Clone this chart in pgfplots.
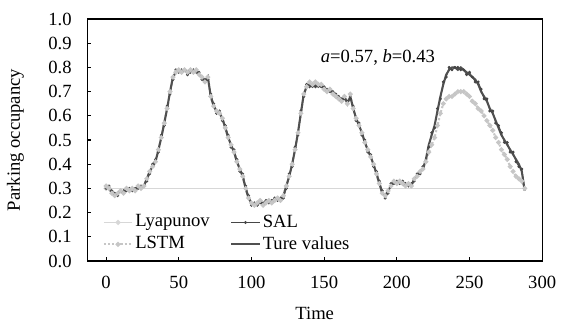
\documentclass[border=0pt]{standalone}
\usepackage{fontspec}
\setmainfont{Liberation Serif}
\usepackage{pgfplots}
\usepackage{pgfplotstable}
\pgfplotsset{compat=1.18}
\definecolor{truec}{RGB}{80,80,80}
\definecolor{salc}{RGB}{70,70,70}
\definecolor{lstmc}{RGB}{198,198,198}
\definecolor{lyac}{RGB}{215,215,215}
\pgfplotstableread{
t true sal lstm
0 0.31 0.30 0.31
2 0.30 0.31 0.30
4 0.28 0.29 0.28
6 0.27 0.28 0.27
8 0.28 0.27 0.28
10 0.29 0.29 0.29
12 0.28 0.29 0.28
14 0.30 0.29 0.30
16 0.29 0.30 0.29
18 0.30 0.29 0.30
20 0.29 0.30 0.29
22 0.31 0.30 0.31
24 0.30 0.31 0.30
26 0.31 0.31 0.31
28 0.34 0.33 0.34
30 0.37 0.36 0.37
32 0.39 0.40 0.39
34 0.41 0.42 0.41
36 0.46 0.45 0.46
38 0.51 0.52 0.51
40 0.57 0.56 0.57
42 0.63 0.64 0.63
44 0.70 0.69 0.70
46 0.76 0.75 0.76
48 0.78 0.79 0.78
50 0.79 0.78 0.79
52 0.78 0.79 0.78
54 0.79 0.79 0.79
56 0.78 0.77 0.78
58 0.79 0.78 0.79
60 0.78 0.79 0.78
62 0.79 0.78 0.79
64 0.77 0.78 0.77
66 0.76 0.75 0.76
68 0.74 0.75 0.74
70 0.76 0.75 0.76
72 0.68 0.69 0.68
74 0.64 0.65 0.64
76 0.62 0.61 0.62
78 0.61 0.62 0.61
80 0.59 0.58 0.59
82 0.55 0.56 0.55
84 0.51 0.52 0.51
86 0.48 0.47 0.48
88 0.45 0.46 0.45
90 0.41 0.42 0.41
92 0.38 0.37 0.38
94 0.35 0.36 0.35
96 0.30 0.31 0.30
98 0.26 0.27 0.26
100 0.24 0.23 0.24
102 0.23 0.24 0.23
104 0.24 0.23 0.24
106 0.25 0.24 0.25
108 0.23 0.24 0.23
110 0.24 0.25 0.24
112 0.25 0.24 0.25
114 0.24 0.25 0.24
116 0.25 0.26 0.25
118 0.26 0.25 0.26
120 0.25 0.26 0.25
122 0.27 0.26 0.27
124 0.31 0.30 0.31
126 0.35 0.36 0.35
128 0.40 0.39 0.40
130 0.46 0.47 0.46
132 0.53 0.52 0.53
134 0.61 0.62 0.61
136 0.69 0.68 0.69
138 0.72 0.73 0.72
140 0.73 0.72 0.74
142 0.72 0.73 0.73
144 0.73 0.72 0.74
146 0.72 0.73 0.73
148 0.73 0.72 0.73
150 0.71 0.72 0.71
152 0.70 0.71 0.70
154 0.71 0.70 0.71
156 0.69 0.70 0.69
158 0.68 0.69 0.68
160 0.67 0.68 0.67
162 0.66 0.67 0.66
164 0.68 0.67 0.68
166 0.65 0.66 0.65
168 0.68 0.67 0.69
170 0.63 0.64 0.63
172 0.59 0.58 0.59
174 0.56 0.57 0.56
176 0.53 0.52 0.53
178 0.49 0.50 0.49
180 0.46 0.45 0.46
182 0.43 0.44 0.43
184 0.40 0.39 0.40
186 0.36 0.37 0.36
188 0.32 0.33 0.32
190 0.28 0.29 0.28
192 0.27 0.26 0.27
194 0.29 0.28 0.29
196 0.31 0.32 0.31
198 0.33 0.32 0.33
200 0.32 0.33 0.32
202 0.33 0.32 0.33
204 0.32 0.33 0.32
206 0.31 0.32 0.31
208 0.32 0.31 0.32
210 0.31 0.32 0.31
212 0.34 0.33 0.34
214 0.35 0.36 0.35
216 0.37 0.36 0.37
218 0.38 0.39 0.38
220 0.42 0.41 0.41
222 0.48 0.47 0.45
224 0.52 0.53 0.48
226 0.56 0.55 0.51
228 0.62 0.63 0.56
230 0.68 0.67 0.61
232 0.73 0.74 0.65
234 0.77 0.76 0.67
236 0.79 0.80 0.68
238 0.80 0.79 0.68
240 0.80 0.80 0.69
242 0.79 0.80 0.70
244 0.80 0.79 0.70
246 0.79 0.79 0.70
248 0.78 0.77 0.69
250 0.77 0.78 0.68
252 0.76 0.76 0.66
254 0.75 0.74 0.65
256 0.73 0.74 0.63
258 0.70 0.71 0.62
260 0.68 0.67 0.60
262 0.66 0.67 0.58
264 0.63 0.62 0.56
266 0.61 0.62 0.54
268 0.58 0.57 0.51
270 0.55 0.56 0.49
272 0.52 0.53 0.46
274 0.50 0.49 0.44
276 0.48 0.49 0.42
278 0.46 0.45 0.39
280 0.44 0.45 0.37
282 0.42 0.41 0.35
284 0.40 0.39 0.34
286 0.37 0.38 0.33
288 0.29 0.30 0.30
}\datatable
\pgfplotstableread{
t v
0 0.30
288 0.30
}\lyatable
\begin{document}
\begin{tikzpicture}
\begin{axis}[
  scale only axis,
  width=220pt, height=117pt,
  xmin=-13, xmax=300, ymin=0, ymax=1,
  xtick={0,50,...,300},
  ytick={0,0.1,...,1.0},
  yticklabel style={/pgf/number format/fixed, /pgf/number format/fixed zerofill, /pgf/number format/precision=1, xshift=-4pt},
  xticklabel style={yshift=-4pt},
  /pgf/number format/assume math mode=true,
  tick align=inside,
  major tick length=2pt,
  tick style={black, line width=0.5pt},
  xtick pos=bottom, ytick pos=left,
  axis line style={black, line width=0.6pt},
  ticklabel style={font=\fontsize{9}{10}\selectfont},
  label style={font=\fontsize{9}{10}\selectfont},
  xlabel={Time},
  ylabel={Parking occupancy},
  xlabel style={yshift=-2pt},
  ylabel style={yshift=5pt},
  legend style={draw=none, fill=none, font=\fontsize{9}{9}\selectfont, at={(axis cs:-2.5,0.21)}, anchor=north west, row sep=-1pt, inner sep=0pt, nodes={inner xsep=1pt}},
  legend columns=2,
  legend cell align=left,
  legend image code/.code={\draw[mark repeat=2,mark phase=2,#1] plot coordinates {(0cm,0cm) (0.24cm,0cm) (0.48cm,0cm)};},
  /tikz/every even column/.append style={column sep=9pt},
]
\addplot[lyac, line width=0.8pt, mark=*, mark size=0.8pt, mark repeat=1000, mark options={fill=lyac, draw=lyac}] table[x=t, y=v] {\lyatable};
\addlegendentry{Lyapunov}
\addplot[salc, line width=0.4pt, mark=*, mark size=0.5pt, mark options={fill=salc}] table[x=t, y=sal] {\datatable};
\addlegendentry{SAL}
\addplot[lstmc, line width=1pt, densely dotted, mark=*, mark size=0.6pt, mark options={solid, fill=lstmc, draw=lstmc}] table[x=t, y=lstm] {\datatable};
\addlegendentry{LSTM}
\addplot[truec, line width=1pt] table[x=t, y=true] {\datatable};
\addlegendentry{Ture values}
\node[font=\fontsize{9}{10}\selectfont] at (axis cs:187,0.842) {\textit{a}=0.57, \textit{b}=0.43};
\end{axis}
\path ([yshift=9.2pt]current axis.north);
\end{tikzpicture}
\end{document}
